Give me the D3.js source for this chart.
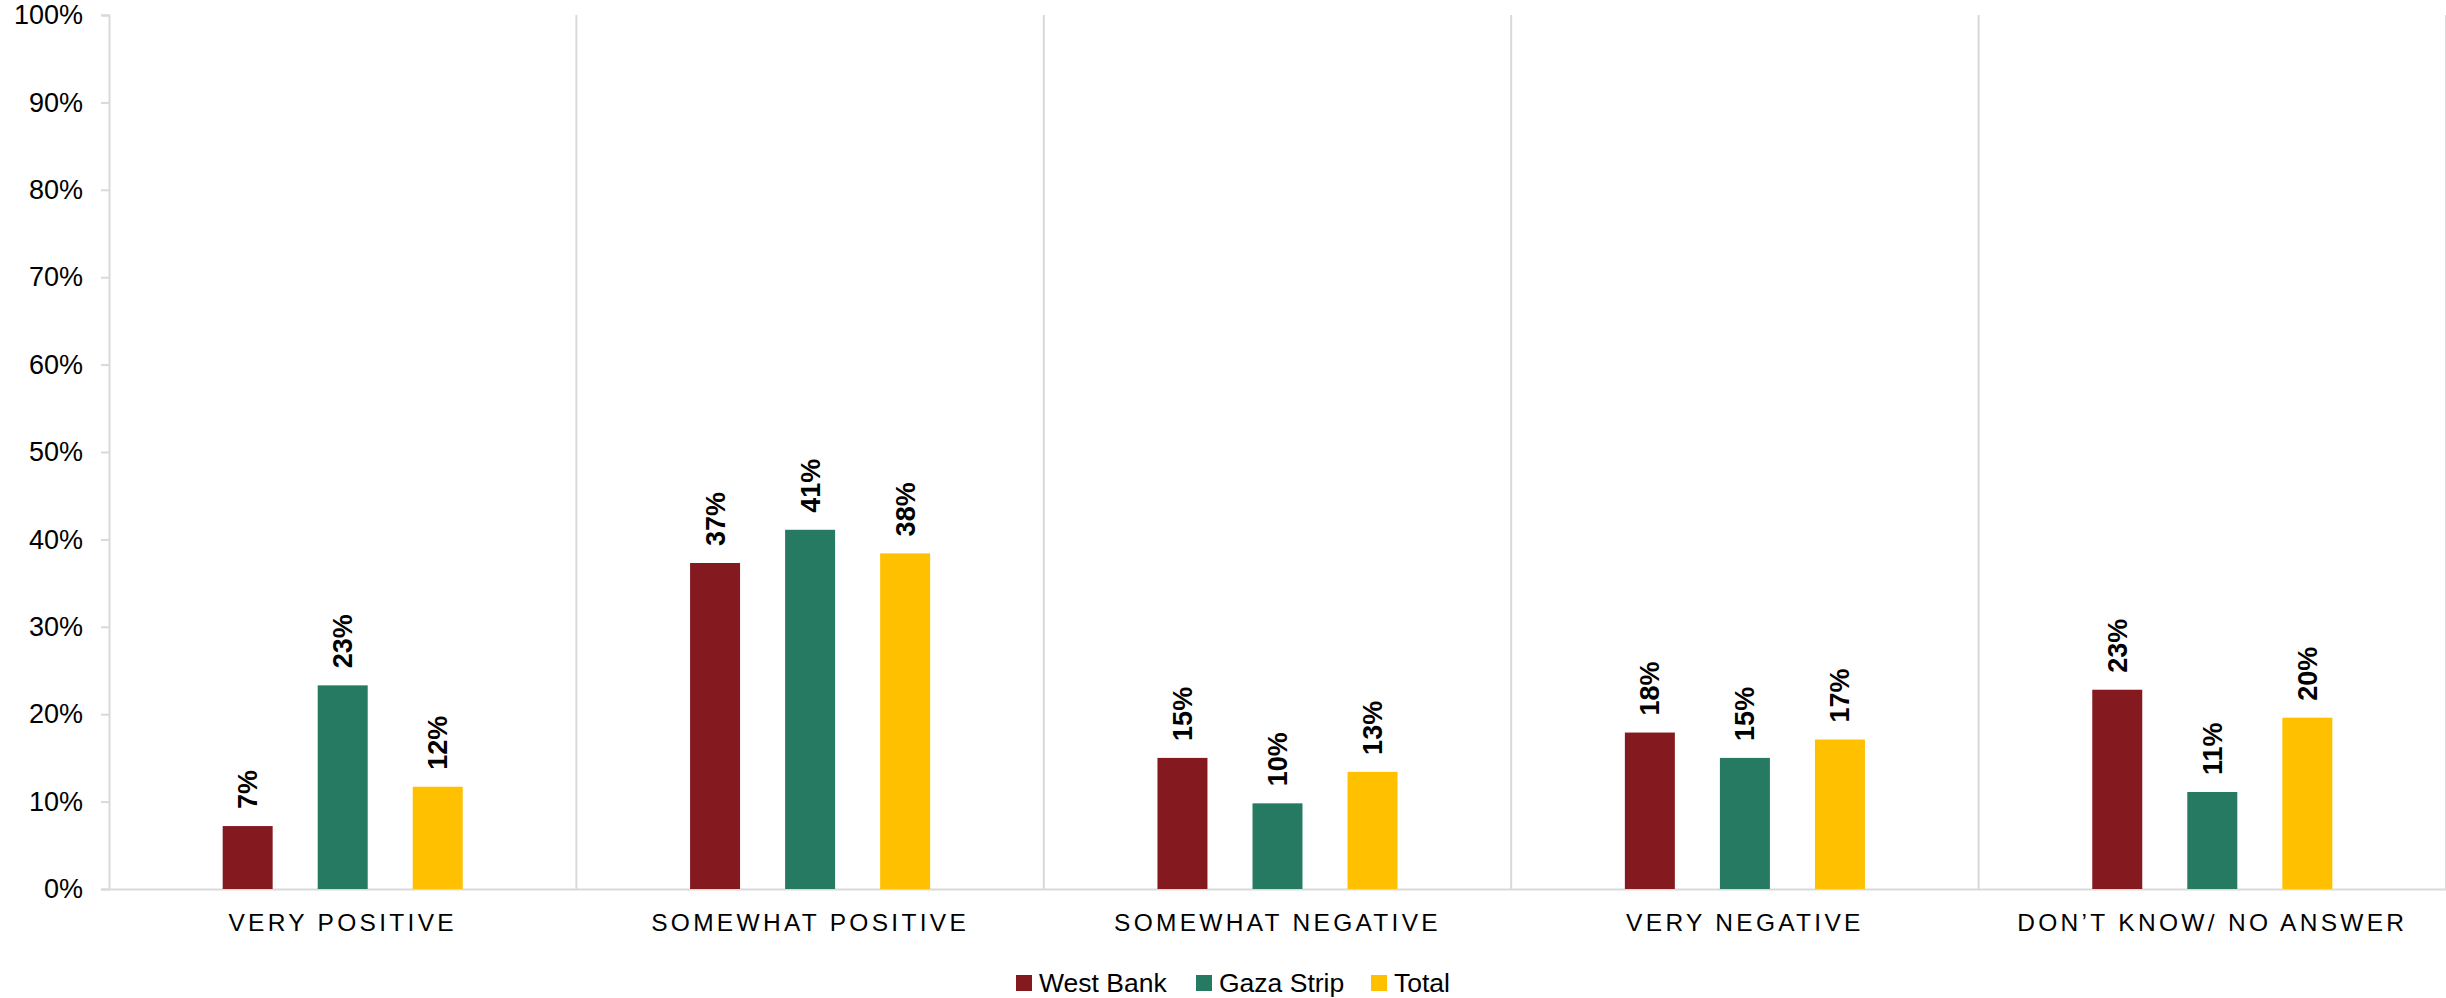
<!DOCTYPE html>
<html>
<head>
<meta charset="utf-8">
<script src="https://cdn.jsdelivr.net/npm/d3@7"></script>
<style>
  html, body { margin: 0; padding: 0; background: #fff; }
  svg { display: block; }
</style>
</head>
<body>
<script>
const categories = ["VERY POSITIVE", "SOMEWHAT POSITIVE", "SOMEWHAT NEGATIVE", "VERY NEGATIVE", "DON\u2019T KNOW/ NO ANSWER"];
const seriesNames = ["West Bank", "Gaza Strip", "Total"];
const westBank = [7.2, 37.3, 15.0, 17.9, 22.8];
const gazaStrip = [23.3, 41.1, 9.8, 15.0, 11.1];
const total = [11.7, 38.4, 13.4, 17.1, 19.6];
const seriesColors = ["#841A1F", "#267A62", "#FFC000"];
const yTicks = [0, 10, 20, 30, 40, 50, 60, 70, 80, 90, 100];

const W = 2446, H = 998;
const M = { left: 109, right: 0, top: 15, bottom: 109 };
const seriesValues = [westBank, gazaStrip, total];

const svg = d3.select("body").append("svg").attr("width", W).attr("height", H);

const x = d3.scaleBand().domain(categories).range([M.left, W - M.right]).padding(0);
const y = d3.scaleLinear().domain([0, 100]).range([H - M.bottom, M.top]);

// vertical category separators
const seps = categories.slice(1).map(c => x(c)).concat([x(categories[categories.length - 1]) + x.bandwidth()]);
svg.append("g").selectAll("line").data(seps).join("line")
  .attr("x1", d => d).attr("x2", d => d)
  .attr("y1", y(100)).attr("y2", y(0))
  .attr("stroke", "#d9d9d9").attr("stroke-width", 2);

// y axis
const yAxis = svg.append("g").attr("transform", `translate(${M.left},0)`)
  .call(d3.axisLeft(y).tickValues(yTicks).tickFormat(d => d + "%").tickSize(8).tickPadding(18));
yAxis.select(".domain").attr("stroke", "#d9d9d9").attr("stroke-width", 2);
yAxis.selectAll(".tick line").attr("stroke", "#d9d9d9").attr("stroke-width", 2);
yAxis.selectAll(".tick text").attr("font-family", "'Liberation Sans', Arial, sans-serif")
  .attr("font-size", 27).attr("fill", "#000");

// x axis
const xAxis = svg.append("g").attr("transform", `translate(0,${y(0)})`)
  .call(d3.axisBottom(x).tickSize(0).tickPadding(25));
xAxis.select(".domain").attr("stroke", "#d9d9d9").attr("stroke-width", 2);
xAxis.selectAll(".tick text").attr("font-family", "'Liberation Sans', Arial, sans-serif")
  .attr("font-size", 24.5).attr("fill", "#000").style("letter-spacing", "3.3px");

// bars
const inner = d3.scaleBand().domain(seriesNames)
  .range([-x.bandwidth() * 0.305, x.bandwidth() * 0.305])
  .paddingInner(0.474).paddingOuter(0.237);

const data = [];
categories.forEach((c, i) => {
  seriesNames.forEach((s, j) => {
    data.push({ cat: c, series: s, value: seriesValues[j][i], color: seriesColors[j] });
  });
});

const g = svg.append("g");
g.selectAll("rect").data(data).join("rect")
  .attr("x", d => x(d.cat) + x.bandwidth() / 2 + inner(d.series))
  .attr("width", inner.bandwidth())
  .attr("y", d => y(d.value))
  .attr("height", d => y(0) - y(d.value))
  .attr("fill", d => d.color);

g.selectAll("text").data(data).join("text")
  .attr("transform", d => {
    const cx = x(d.cat) + x.bandwidth() / 2 + inner(d.series) + inner.bandwidth() / 2;
    return `translate(${cx},${y(d.value) - 17}) rotate(-90)`;
  })
  .attr("dy", "0.35em")
  .attr("text-anchor", "start")
  .attr("font-family", "'Liberation Sans', Arial, sans-serif")
  .attr("font-weight", "bold")
  .attr("font-size", 27)
  .attr("fill", "#000")
  .text(d => Math.round(d.value) + "%");

// legend
const legend = svg.append("g").attr("transform", `translate(0,${983})`);
const legendX = [1016, 1196, 1371];
seriesNames.forEach((s, j) => {
  legend.append("rect").attr("x", legendX[j]).attr("y", -8).attr("width", 16).attr("height", 16)
    .attr("fill", seriesColors[j]);
  legend.append("text").attr("x", legendX[j] + 23).attr("y", 0).attr("dy", "0.35em")
    .attr("font-family", "'Liberation Sans', Arial, sans-serif").attr("font-size", 26.5).attr("fill", "#000")
    .text(s);
});
</script>
</body>
</html>
